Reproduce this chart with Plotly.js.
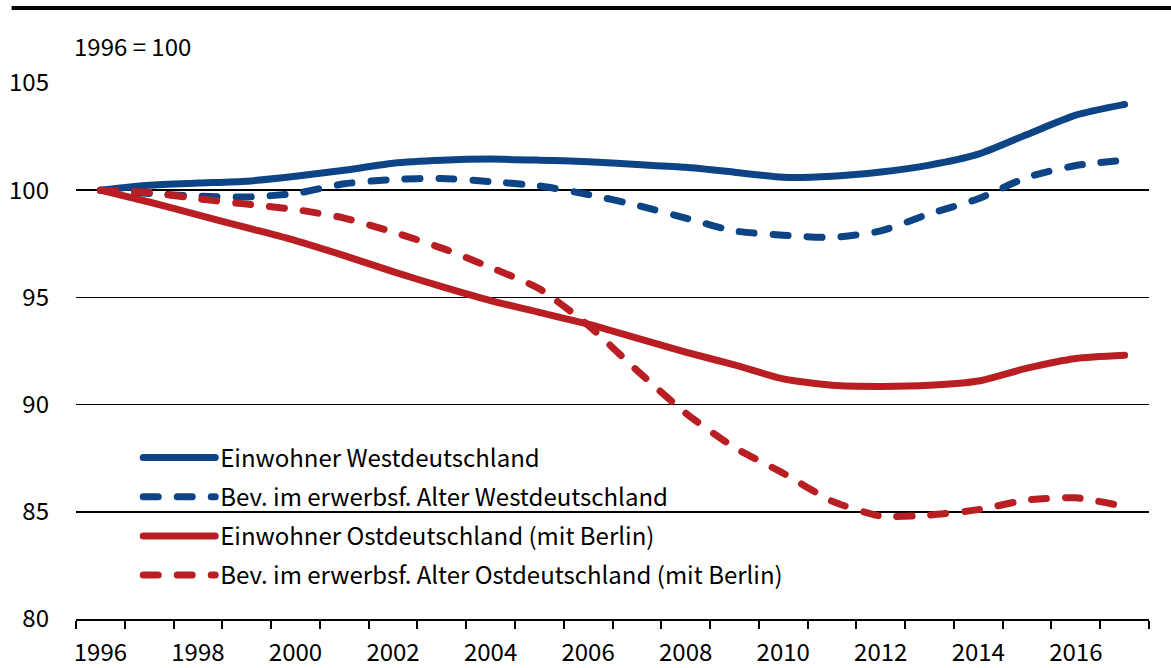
<!DOCTYPE html>
<html>
<head>
<meta charset="utf-8">
<script src="https://cdn.plot.ly/plotly-3.0.1.min.js"></script>
<style>
html,body{margin:0;padding:0;background:#fff;}
#chart{width:1171px;height:668px;}
.js-line{stroke-linecap:round;stroke-linejoin:round;}
</style>
</head>
<body>
<div id="chart"></div>
<script>
const years = [1996,1997,1998,1999,2000,2001,2002,2003,2004,2005,2006,2007,2008,2009,2010,2011,2012,2013,2014,2015,2016,2017];
const einwWest = [100,100.23,100.33,100.42,100.65,100.93,101.26,101.4,101.45,101.4,101.33,101.2,101.07,100.84,100.6,100.65,100.85,101.17,101.68,102.6,103.5,104.0];
const bevWest = [100,99.85,99.72,99.68,99.85,100.3,100.5,100.55,100.4,100.2,99.8,99.3,98.7,98.1,97.9,97.8,98.1,98.9,99.6,100.6,101.15,101.4];
const einwOst = [100,99.45,98.85,98.25,97.65,96.95,96.2,95.5,94.85,94.3,93.75,93.1,92.45,91.85,91.2,90.9,90.85,90.9,91.1,91.7,92.15,92.3];
const bevOst = [100,99.9,99.6,99.35,99.1,98.7,98.05,97.3,96.4,95.4,93.7,91.6,89.6,88.0,86.8,85.5,84.8,84.85,85.1,85.55,85.65,85.25];
const names = ["Einwohner Westdeutschland","Bev. im erwerbsf. Alter Westdeutschland","Einwohner Ostdeutschland (mit Berlin)","Bev. im erwerbsf. Alter Ostdeutschland (mit Berlin)"];
const xTickLabels = ["1996","1998","2000","2002","2004","2006","2008","2010","2012","2014","2016"];
const xTickVals = [1996,1998,2000,2002,2004,2006,2008,2010,2012,2014,2016];
const yTicks = [80,85,90,95,100,105];

const BLUE = "#0d4485", RED = "#b81e22";
const FONT = "'Noto Sans CJK SC', 'Noto Sans', sans-serif";
const FS = 24;
function tr(y, i, color, dash){
  return {x: years, y: y, name: names[i], type:'scatter', mode:'lines',
    legendgroup:'g'+i,
    line:{color: color, width: 7, dash: dash, shape:'spline', smoothing:0.6}};
}
const data = [
  tr(einwWest,0,BLUE,'solid'),
  tr(bevWest,1,BLUE,'15px,19px'),
  tr(einwOst,2,RED,'solid'),
  tr(bevOst,3,RED,'15px,19px')
];
const layout = {
  width:1171, height:668,
  margin:{l:76, r:22, t:83, b:49},
  paper_bgcolor:'#fff', plot_bgcolor:'#fff',
  font:{family:FONT, size:FS, color:'#000'},
  showlegend:true,
  legend:{x:0.058, y:0.3425, xanchor:'left', yanchor:'top', bgcolor:'rgba(0,0,0,0)',
    itemwidth:72, tracegroupgap:5, font:{family:FONT,size:FS,color:'#000'}, traceorder:'grouped'},
  xaxis:{range:[1995.5,2017.5], tickvals:xTickVals, ticktext:xTickLabels, ticks:'', showgrid:false,
    showline:true, linecolor:'#000', linewidth:2, zeroline:false, fixedrange:true, ticklabelstandoff:11,
    minor:{tick0:1995.5, dtick:1, ticks:'outside', ticklen:8, tickwidth:2, tickcolor:'#000', showgrid:false},
    tickfont:{family:FONT,size:FS,color:'#000'}},
  yaxis:{range:[80,105], tickvals:yTicks, ticks:'', showgrid:true, gridcolor:'#000', gridwidth:1.5,
    showline:false, zeroline:false, ticklabelstandoff:26, fixedrange:true,
    tickfont:{family:FONT,size:FS,color:'#000'}},
  shapes:[{type:'line', xref:'paper', yref:'paper', x0:-0.06, x1:1.03, y0:1.14, y1:1.14,
    line:{color:'#000', width:4}}],
  annotations:[{xref:'paper', yref:'paper', x:-0.004, y:1.07, xanchor:'left', yanchor:'middle',
    text:'1996 = 100', showarrow:false, font:{family:FONT,size:FS,color:'#000'}}]
};
Plotly.newPlot('chart', data, layout, {displayModeBar:false, staticPlot:true});
</script>
</body>
</html>
